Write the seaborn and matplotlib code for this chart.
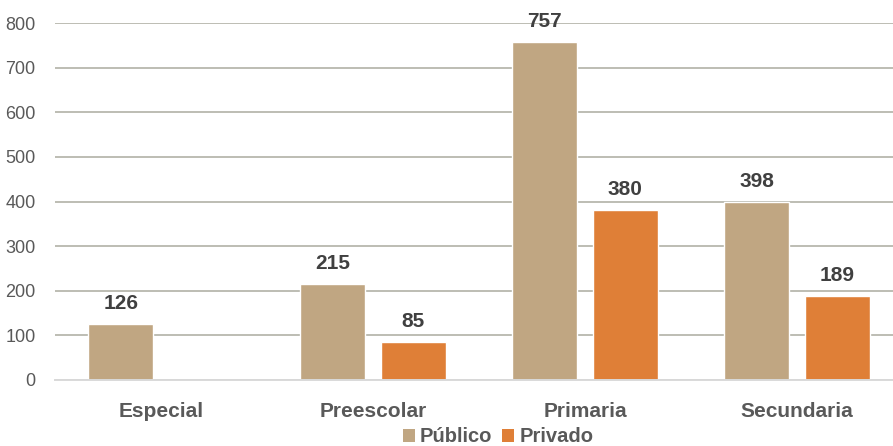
import matplotlib
matplotlib.use("Agg")
import matplotlib.pyplot as plt
import seaborn as sns
import pandas as pd
import numpy as np
from matplotlib.patches import Patch

categories = ["Especial", "Preescolar", "Primaria", "Secundaria"]
publico = [126, 215, 757, 398]
privado = [np.nan, 85, 380, 189]
series = ["Público", "Privado"]
yticks = [0, 100, 200, 300, 400, 500, 600, 700, 800]

colors = {"Público": "#C0A682", "Privado": "#DF7F37"}
text_color = "#595959"

df = pd.DataFrame({
    "cat": categories * 2,
    "val": publico + privado,
    "serie": [series[0]] * 4 + [series[1]] * 4,
})

sns.set_theme(style="white")
plt.rcParams['font.family'] = ['Liberation Sans', 'DejaVu Sans']

W, H = 893, 446
fig = plt.figure(figsize=(W / 100, H / 100), dpi=100)
ax = fig.add_axes([55 / W, 66 / H, 848 / W, 357 / H])

sns.barplot(data=df, x="cat", y="val", hue="serie", palette=colors,
            order=categories, hue_order=series, width=0.76, gap=0.19,
            saturation=1, ax=ax, legend=False, errorbar=None)

for cont in ax.containers:
    labels = ["" if np.isnan(v) else f"{int(v)}" for v in cont.datavalues]
    ax.bar_label(cont, labels=labels, padding=8, fontsize=15, fontweight="bold",
                 color="#404040")

ax.set_ylim(0, 800)
ax.set_xlim(-0.5, 3.5)
ax.set_yticks(yticks)
ax.set_yticklabels([str(t) for t in yticks])
ax.yaxis.grid(True, color="#BDBDB3", linewidth=1.4)
ax.set_axisbelow(True)
for s in ["top", "right", "left"]:
    ax.spines[s].set_visible(False)
ax.spines["bottom"].set_color("#D9D9D9")
ax.spines["bottom"].set_linewidth(1.4)
ax.tick_params(axis="y", length=0, pad=14, labelsize=13, labelcolor=text_color)
ax.tick_params(axis="x", length=0, pad=16, labelsize=15, labelcolor=text_color)
for lbl in ax.get_xticklabels():
    lbl.set_fontweight("bold")
ax.set_xlabel("")
ax.set_ylabel("")

handles = [Patch(facecolor=colors[s], edgecolor="none") for s in series]
leg = fig.legend(handles, series, loc="center", bbox_to_anchor=(498 / W, 9 / H),
                 ncol=2, frameon=False, handlelength=0.6, handleheight=0.6,
                 handletextpad=0.25, columnspacing=0.5,
                 prop={"size": 14.5, "weight": "bold"})
for t in leg.get_texts():
    t.set_color(text_color)

fig.savefig("out.png", dpi=100)
